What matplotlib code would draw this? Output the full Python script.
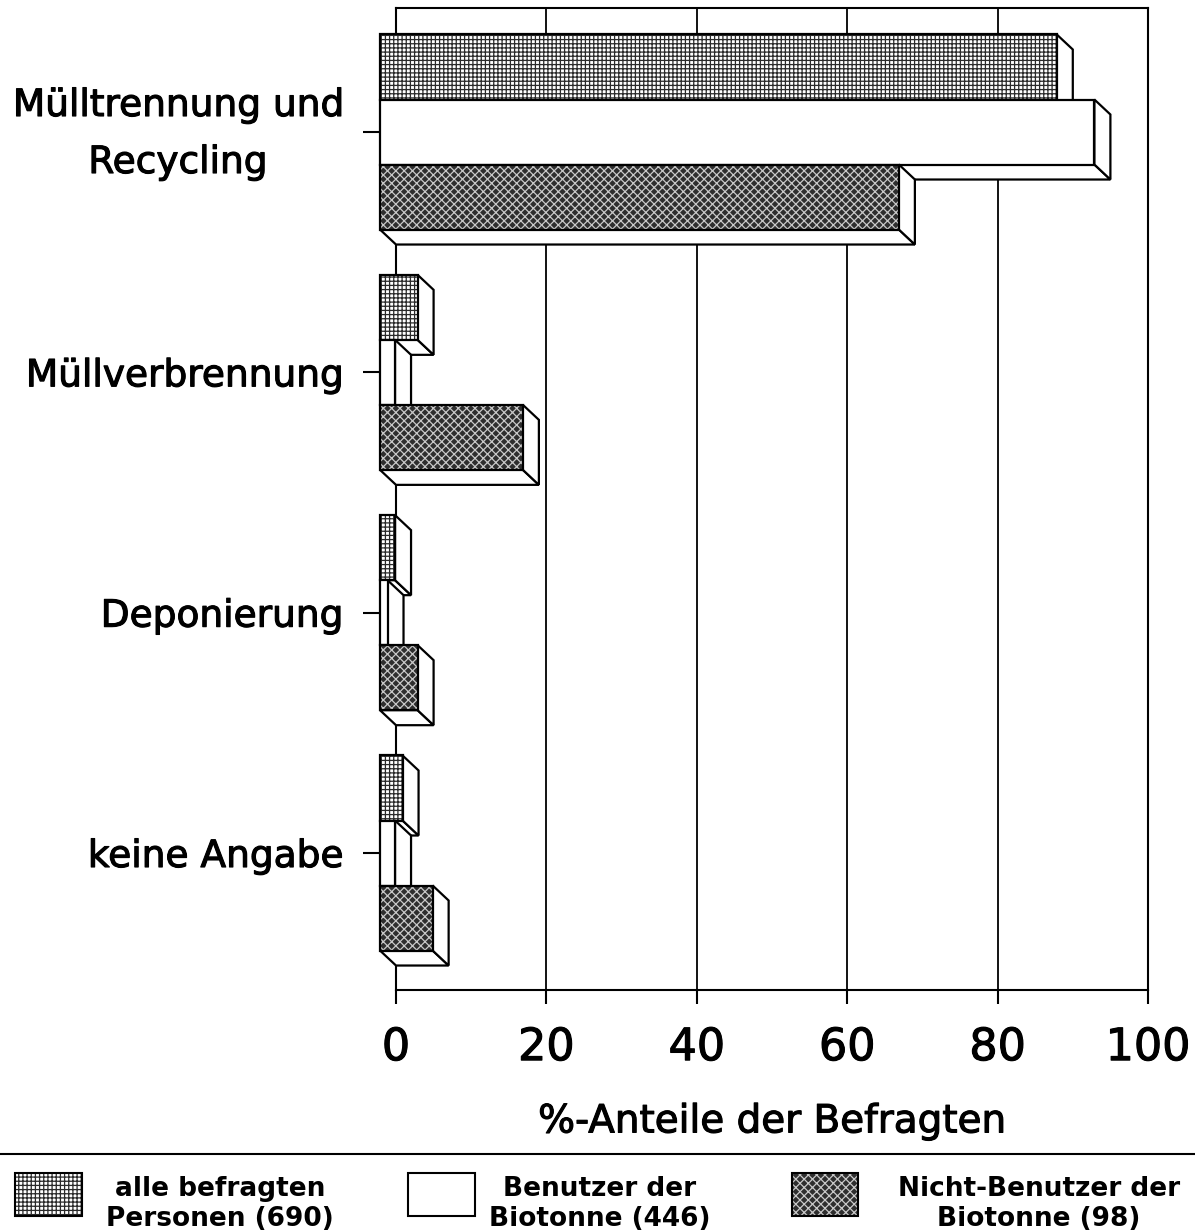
import matplotlib
matplotlib.use("Agg")
import matplotlib.pyplot as plt
import matplotlib.patheffects as pe
import matplotlib.transforms as mtransforms
from matplotlib.patches import Polygon, Rectangle
from matplotlib.lines import Line2D

# ------------------------------------------------------------
# Data (% of respondents)
# ------------------------------------------------------------
categories = ["Mülltrennung und\nRecycling", "Müllverbrennung", "Deponierung", "keine Angabe"]
series_labels = ["alle befragten\nPersonen (690)",
                 "Benutzer der\nBiotonne (446)",
                 "Nicht-Benutzer der\nBiotonne (98)"]
alle = [90, 5, 2, 3]
benutzer = [95, 2, 1, 2]
nicht_benutzer = [69, 19, 5, 7]
xticks = [0, 20, 40, 60, 80, 100]

series = [alle, benutzer, nicht_benutzer]

# fill styles per series: (face, hatch, hatch colour)
styles = [
    ("white", "++++", "#2a2a2a"),
    ("white", None, None),
    ("#2e2e2e", "xxxx", "#c8c8c8"),
]

plt.rcParams["font.family"] = ["DejaVu Sans"]
plt.rcParams["hatch.linewidth"] = 0.9

heavy = [pe.withStroke(linewidth=0.8, foreground="black")]

W, H = 1195, 1231
fig = plt.figure(figsize=(W / 100, H / 100), dpi=100)
ax = fig.add_axes([396 / W, 1 - 990 / H, (1148 - 396) / W, (990 - 8) / H])

ylim = (3.570, -0.516)
ax.set_xlim(0, 100)
ax.set_ylim(*ylim)

bar_h = 0.2705
# depth of the 3D effect: 16 px right, 15 px down
dx = 16 / ((1148 - 396) / 100)
dy = 15 / ((990 - 8) / (ylim[0] - ylim[1]))


def face(pts, z, fc="white", hatch=None, hc=None):
    if hatch:
        ax.add_patch(Polygon(pts, closed=True, facecolor=fc, edgecolor=hc,
                             hatch=hatch, lw=0, zorder=z, clip_on=False))
        ax.add_patch(Polygon(pts, closed=True, fill=False, edgecolor="black",
                             lw=1.6, zorder=z + 0.001, clip_on=False))
    else:
        ax.add_patch(Polygon(pts, closed=True, facecolor=fc, edgecolor="black",
                             lw=1.6, zorder=z, clip_on=False))


def bar3d(v, ytop, z, style):
    fc, hatch, hc = style
    ybot = ytop + bar_h
    # bottom face
    face([(-dx, ybot), (v - dx, ybot), (v, ybot + dy), (0, ybot + dy)], z)
    # right side face
    face([(v - dx, ytop), (v, ytop + dy), (v, ybot + dy), (v - dx, ybot)], z + 0.002)
    # front face
    face([(-dx, ytop), (v - dx, ytop), (v - dx, ybot), (-dx, ybot)], z + 0.004, fc, hatch, hc)


z = 3
for i in range(len(categories)):
    for j, vals in enumerate(series):
        ytop = i + (j - 1.5) * bar_h
        bar3d(vals[i], ytop, z, styles[j])
        z += 0.01

# ------------------------------------------------------------
# Axes styling
# ------------------------------------------------------------
ax.set_axisbelow(True)
ax.xaxis.grid(True, color="black", lw=1.3)
for sp in ax.spines.values():
    sp.set_linewidth(1.5)

ax.set_xticks(xticks)
ax.set_xticklabels([str(t) for t in xticks])
ax.set_yticks(range(len(categories)))
ax.set_yticklabels(categories)

ax.tick_params(axis="x", direction="out", length=10, width=1.5, pad=16, labelsize=32)
ax.tick_params(axis="y", direction="out", length=24, width=1.5, pad=14, labelsize=27)

for k, lbl in enumerate(ax.get_yticklabels()):
    lbl.set_multialignment("center")
    lbl.set_linespacing(1.75)
    lbl.set_path_effects(heavy)
    if "\n" in categories[k]:
        # two-line label sits a little higher in the original
        lbl.set_transform(lbl.get_transform() +
                          mtransforms.ScaledTranslation(0, 0.12, fig.dpi_scale_trans))
for lbl in ax.get_xticklabels():
    lbl.set_path_effects(heavy)

xl = ax.set_xlabel("%-Anteile der Befragten", fontsize=28, labelpad=24)
xl.set_path_effects(heavy)

# ------------------------------------------------------------
# Legend strip at the bottom
# ------------------------------------------------------------
fig.add_artist(Line2D([0, 1], [1 - 1154 / H] * 2, transform=fig.transFigure,
                      color="black", lw=1.5))

legend_boxes = [(15, 82), (408, 475), (792, 858)]
legend_text_x = [220, 600, 1039]
for (x0, x1), tx, lab, (fc, hatch, hc) in zip(legend_boxes, legend_text_x, series_labels, styles):
    rect_xy = (x0 / W, 1 - 1216 / H)
    rw, rh = (x1 - x0) / W, (1216 - 1173) / H
    if hatch:
        fig.add_artist(Rectangle(rect_xy, rw, rh, transform=fig.transFigure,
                                 facecolor=fc, edgecolor=hc, hatch=hatch, lw=0))
        fig.add_artist(Rectangle(rect_xy, rw, rh, transform=fig.transFigure,
                                 fill=False, edgecolor="black", lw=1.5))
    else:
        fig.add_artist(Rectangle(rect_xy, rw, rh, transform=fig.transFigure,
                                 facecolor=fc, edgecolor="black", lw=1.5))
    fig.text(tx / W, 1 - 1204 / H, lab, ha="center", va="center", fontsize=19,
             fontweight="bold", multialignment="center", linespacing=1.2)

fig.savefig("out.png", dpi=100)
